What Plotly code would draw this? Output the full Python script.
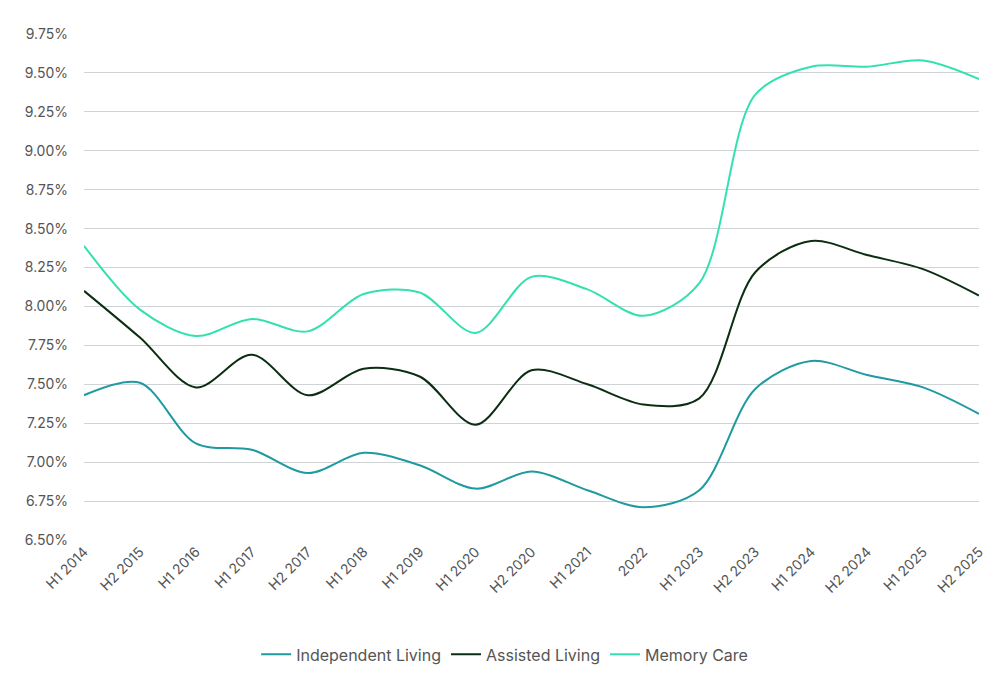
import plotly.graph_objects as go

# period labels on the x axis
periods = ["H1 2014", "H2 2015", "H1 2016", "H1 2017", "H2 2017", "H1 2018",
           "H1 2019", "H1 2020", "H2 2020", "H1 2021", "2022", "H1 2023",
           "H2 2023", "H1 2024", "H2 2024", "H1 2025", "H2 2025"]

# cap rates in percent
independent_living = [7.43, 7.51, 7.12, 7.08, 6.93, 7.06, 6.98, 6.83, 6.94,
                      6.82, 6.71, 6.82, 7.47, 7.65, 7.56, 7.48, 7.31]
assisted_living = [8.10, 7.80, 7.48, 7.69, 7.43, 7.60, 7.55, 7.24, 7.59,
                   7.50, 7.37, 7.41, 8.22, 8.42, 8.33, 8.24, 8.07]
memory_care = [8.39, 7.98, 7.81, 7.92, 7.84, 8.08, 8.09, 7.83, 8.19,
               8.11, 7.94, 8.15, 9.36, 9.54, 9.54, 9.58, 9.46]

series = [
    ("Independent Living", independent_living, "#1f9aa0"),
    ("Assisted Living", assisted_living, "#0b2e12"),
    ("Memory Care", memory_care, "#33e0b0"),
]

fig = go.Figure()
for name, vals, color in series:
    fig.add_trace(go.Scatter(
        x=periods,
        y=[v / 100 for v in vals],
        mode="lines",
        name=name,
        line=dict(color=color, width=2, shape="spline", smoothing=0.9),
    ))

tick_vals = [6.5 + 0.25 * i for i in range(14)]

# page body adds 8px, so margins are pulled in by that much
fig.update_layout(
    width=1000, height=675,
    margin=dict(l=76, r=29, t=26, b=137),
    plot_bgcolor="white", paper_bgcolor="white",
    font=dict(family="Inter, Roboto, sans-serif", size=14, color="#555555"),
    xaxis=dict(
        type="category", range=[0, len(periods) - 1],
        tickangle=-45, showgrid=False, showline=False, zeroline=False,
        ticks="", tickfont=dict(size=14), automargin=False,
    ),
    yaxis=dict(
        range=[0.065, 0.0975],
        tickvals=[v / 100 for v in tick_vals],
        tickformat=".2%",
        showgrid=True, gridcolor="#d0d3d6", gridwidth=1,
        zeroline=False, showline=False, ticks="",
        ticklabelstandoff=15, automargin=False,
    ),
    legend=dict(
        orientation="h", x=0.47, xanchor="center", y=-0.226, yanchor="middle",
        font=dict(size=16, color="#555555"),
        itemwidth=30,
    ),
    showlegend=True,
)

fig.write_html("out.html")
